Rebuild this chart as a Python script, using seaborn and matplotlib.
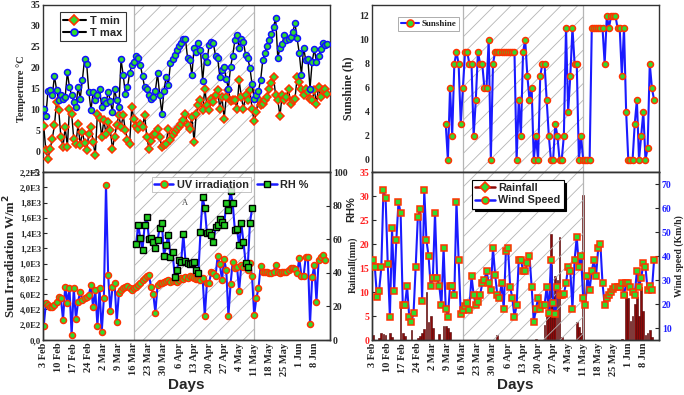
import matplotlib
matplotlib.use('Agg')
import numpy as np
import pandas as pd
import matplotlib.pyplot as plt
import matplotlib.dates as mdates
from matplotlib.lines import Line2D
from matplotlib.ticker import FuncFormatter, MultipleLocator
import seaborn as sns

# ---------------- data (daily, starting 3 Feb 2020) ----------------
t_min = [6, 0.2, -1.8, 0.6, 3.0, 6.2, 11.8, 9.8, 3.4, 1,
         5.8, 1, 10.2, 9, 2.8, 1.7, 6.5, 1.4, 4.6, 2.0,
         0.2, 4.2, 5.7, 2.2, -1, 9, 8, 3.4, 7.4, 4.2,
         7, 5, 0.6, 3.4, 6.2, 8.6, 5.7, 8.6, 5.0, 2.6,
         1.8, 10.6, 7.6, 6, 5.4, 6.6, 5.8, 8.6, 3.4, 0.6,
         2.5, 3.8, 4.2, 5.2, 3.4, 1, 1.5, 1.8, 5.4, 2.6,
         3.8, 4.6, 5.2, 5.8, 6.5, 7.4, 9,
         6.2, 5.4, 8.2, 2.2, 9, 11, 12.2, 9.8, 14.8, 11.0,
         9.8, 12.4, 11.8, 13.4, 14.6, 10.2, 13, 7.8, 13, 14.6,
         12.0, 12.2, 12.2, 10.2, 17, 13, 10.2, 13.4, 12.2, 14.6,
         10.2, 7.1, 9.4, 12.6, 11.0, 11.4, 12.2, 13, 15, 16.2,
         17.7, 13.4, 12.2, 8.4, 13.4, 12.2, 13, 14.8, 11.4, 12.2,
         12.6, 17.7, 16.6, 15, 13.4, 15, 14.2, 12.6, 12.2, 14.6,
         11.4, 15.4, 13, 14.6, 15, 13.8]

t_max = [10.2, 8.5, 14.5, 14.6, 13.4, 18.0, 14.6, 12.2, 13.4, 12.5,
         13.0, 18.9, 15.3, 13.4, 11.8, 10.6, 15.3, 12.6, 17.0, 22.0,
         20.9, 14.2, 9.8, 14.2, 12.2, 13.4, 15.0, 10.6, 12.2, 11.5,
         14.2, 12.1, 9.4, 14.8, 12.2, 10.5, 22.0, 18.2, 13.8, 15.3,
         18.6, 20.6, 21.4, 22.8, 22.2, 20.6, 18.0, 15.3, 14.8, 13.4,
         12.6, 13.0, 14.5, 18.6, 13.4, 9.0, 14.5, 17.8, 15.8, 21.0,
         22.0, 23.0, 24.2, 25.2, 26.0, 26.8, 26.8, 22.2, 21.8, 18.2,
         24.8, 23.8, 25.8, 24.2, 16.8, 22.8, 21.4, 25.4, 26.2, 25.8,
         22.8, 22.2, 17.8, 19.4, 20.2, 17.2, 15.0, 20.2, 22.8, 26.6,
         27.7, 24.6, 26.8, 26.2, 23.0, 22.2, 20.0, 16.0, 12.6, 13.4,
         14.5, 17.0, 21.8, 23.6, 25.2, 26.6, 28.0, 29.8, 31.8, 22.2,
         24.8, 25.6, 27.8, 26.6, 26.8, 27.3, 28.6, 30.6, 27.0, 23.4,
         18.2, 24.8, 21.8, 22.0, 15.0, 21.4, 24.4, 21.4, 22.8, 24.4,
         25.8, 25.4, 25.6]

# sunshine starts on day 34
sun_start = 34
sunshine = [3, 0, 6, 2, 8, 9, 8, 3, 6, 9, 9, 8, 8, 2, 5, 9, 8, 8, 6, 6,
            10, 0, 8, 9, 9, 9, 9, 9, 9, 9, 9, 9, 9, 0, 5, 2, 9, 10, 7, 5,
            6, 0, 2, 0, 7, 8, 8, 5, 2, 0, 0, 3, 2, 0, 0, 2, 11, 4, 7, 11,
            8, 8, 0, 2, 0, 0, 0, 0, 11, 11, 11, 11, 11, 11, 8, 12, 11, 12,
            12, 12, 11, 11, 7, 11, 4, 0, 0, 0, 3, 5, 0, 2, 4, 0, 1, 8, 6, 5]

uv = [183, 480, 459, 437, 428, 459, 502, 568, 546, 262,
      699, 489, 677, 65, 677, 271, 502, 633, 524, 546,
      568, 590, 720, 428, 655, 188, 677, 100, 546, 2030,
      852, 384, 690, 742, 240, 611, 655, 677, 690, 707,
      677, 655, 677, 699, 720, 742, 786, 810, 838, 852,
      690, 603, 358, 720, 742, 751, 764, 777, 786, 764,
      775, 786, 764, 786, 808, 795, 821, 808, 838, 821,
      808, 800, 795, 786, 808, 314, 751, 742, 895, 873,
      838, 1100, 996, 786, 1057, 917, 314, 734, 1026, 939,
      961, 646, 983, 952, 970, 917, 1004, 838, 327, 546,
      677, 970, 895, 890, 895, 873, 873, 895, 983, 895,
      873, 895, 895, 895, 917, 939, 939, 930, 873, 1070,
      838, 838, 1083, 1092, 210, 821, 983, 502, 1048, 1083,
      1114, 1048]

# relative humidity starts on day 43
rh_start = 43
rh = [57, 68.5, 60.5, 53.6, 68.5, 73.4, 60, 60.5, 58.5, 54.6,
      59.5, 66.5, 69.8, 50, 56.5, 62.5, 49.2, 52.6, 37.7, 41.7,
      47.6, 46.6, 63, 47.2, 45.6, 45.2, 45.6, 46.6, 41.7, 39.7,
      64.5, 85, 78.4, 63.5, 64.5, 62.5, 58.5, 67, 68.5, 71.8,
      70.4, 68.5, 81.3, 77.4, 88.9, 81.3, 65.5, 65.9, 56.5, 69.4,
      58.5, 46, 43.3, 69.4, 78.4]

wind = [38.3, 35.3, 22.8, 25.6, 35.3, 67.5, 64, 36.7, 14.7, 51.5,
        25.6, 46.7, 62.6, 57.8, 19.4, 19.4, 27.5, 14.7, 12.6, 16.1,
        35.3, 56.1, 59.4, 21.1, 67.5, 46.7, 40, 27.5, 30.7, 57.8,
        30.7, 27.5, 19.4, 43.3, 18, 14.7, 27.5, 27.5, 23.8, 62.6,
        38.3, 15.8, 17.5, 19.0, 20.6, 17.5, 31.7, 23.8, 19.4, 21.0,
        23.8, 28.6, 30.0, 33.9, 28.6, 25.8, 43.3, 32.2, 23.8, 22.4,
        28.6, 18, 41.9, 43.3,
        27.2, 22.4, 14.7, 19.4, 38.3, 38.3, 33.9, 33.9, 36.9, 40,
        27.2, 12.6, 18, 22.4, 18, 19.4, 19.4, 27.2, 16.1, 38.3,
        20.6, 15.8, 27.2, 23.8, 23.8, 24.2, 28.6, 35.6, 33.9, 18,
        38.3, 48, 35.3, 40, 22.4, 19.4, 31.7, 25.8, 33.9, 38.3,
        31.7, 43.3, 45.1, 28.6, 19.4, 22.4, 23.8, 25.2, 26.2, 27,
        27.2, 27.2, 28.6, 23.8, 28.6, 28.6, 27.2, 25.2, 23.8, 33.9,
        27.2, 30.7, 36.9, 35.3, 25.8, 27.5, 25.8, 38.3]

# rainy days (day number after 3 Feb) and amount
rain_day = [0, 3, 4, 5, 6, 8, 9, 13, 14, 15, 18, 21, 22, 23, 24, 25, 26, 27, 28,
            31, 33, 34, 35, 36, 58, 76, 80, 81, 82, 83, 84, 85, 86, 87, 88,
            95, 96, 97, 98, 116, 118, 119, 120, 121, 122, 123, 124, 125, 126,
            127, 128, 129, 130]
rain_mm = [1.0, 0.4, 1.4, 1.2, 1.0, 1.4, 0.6, 7.6, 1.5, 0.8, 2.0, 0.4, 0.8, 1.4, 2.3,
           10.0, 3.8, 5.0, 2.5, 1.2, 2.9, 2.9, 2.4, 1.7, 1.0, 0.3, 3.1, 4.9, 6.3,
           22.1, 9.0, 13.3, 12.5, 21.4, 0.6, 3.8, 2.8, 1.5, 30.2, 0.3, 10.1, 8.7,
           4.0, 4.9, 7.6, 9.0, 4.9, 11.0, 6.0, 1.0, 1.5, 2.0, 0.6]

start = pd.Timestamp('2020-02-03')
hatch_from = pd.Timestamp('2020-03-16')
hatch_to = pd.Timestamp('2020-05-11')


def dates(n, offset=0):
    return start + pd.to_timedelta(np.arange(n) + offset, unit='D')


# ---------------- style ----------------
sns.set_style('white')
plt.rcParams['font.family'] = ['Liberation Serif', 'DejaVu Sans']
plt.rcParams['font.weight'] = 'bold'
plt.rcParams['hatch.linewidth'] = 0.6
plt.rcParams['axes.edgecolor'] = '#333333'
plt.rcParams['axes.linewidth'] = 1.0

GREEN = '#2fdc2f'
RED = '#ff3300'
BLUE = '#1a1aff'
SANS = 'Liberation Sans'
MS = 4.3
MEW = 1.1

fig = plt.figure(figsize=(6.84, 3.95), dpi=100)
W, H = 684, 395


def add_ax(x0, y0, x1, y1):
    return fig.add_axes([x0 / W, 1 - y1 / H, (x1 - x0) / W, (y1 - y0) / H])


ax_tl = add_ax(43, 5, 330, 172)
ax_tr = add_ax(372, 5, 659, 172)
ax_bl = add_ax(43, 172, 330, 340)
ax_br = add_ax(372, 172, 659, 340)

xmin = start - pd.Timedelta(hours=8)
xmax = start + pd.Timedelta(days=133.3)
weekly = pd.date_range('2020-02-03', '2020-06-08', freq='7D')

for ax in (ax_tl, ax_tr, ax_bl, ax_br):
    ax.axvspan(hatch_from, hatch_to, facecolor='none', edgecolor='#b5b5b5',
               hatch='//', lw=0.9, zorder=1.5)
    ax.set_xlim(xmin, xmax)
    ax.set_xticks(weekly)
    ax.tick_params(direction='in', length=3, width=0.8, labelsize=7, pad=2)

for ax in (ax_tl, ax_tr):
    ax.tick_params(axis='x', labelbottom=False)

for ax in (ax_bl, ax_br):
    ax.xaxis.set_major_formatter(mdates.DateFormatter('%-d %b'))
    ax.tick_params(axis='x', labelrotation=90, labelsize=7.5)
    ax.set_xlabel('Days', fontsize=11, fontweight='bold', family=SANS, labelpad=1)

# ---------------- top left: temperature ----------------
sns.lineplot(x=dates(len(t_min)), y=t_min, ax=ax_tl, color='black', lw=1.0,
             marker='D', markersize=MS, markerfacecolor=GREEN,
             markeredgecolor=RED, markeredgewidth=MEW, zorder=3)
sns.lineplot(x=dates(len(t_max)), y=t_max, ax=ax_tl, color='black', lw=1.0,
             marker='o', markersize=MS, markerfacecolor=GREEN,
             markeredgecolor='#1010ff', markeredgewidth=MEW, zorder=3)
ax_tl.set_ylim(-5, 35)
ax_tl.yaxis.set_major_locator(MultipleLocator(5))
ax_tl.set_ylabel('Temperture °C', fontsize=7.5, fontweight='bold', labelpad=3)
h_tl = [Line2D([], [], color='black', lw=1.5, marker='D', ms=5, mfc=GREEN, mec=RED, mew=1.2),
        Line2D([], [], color='black', lw=1.5, marker='o', ms=5, mfc=GREEN, mec='#1010ff', mew=1.2)]
leg = ax_tl.legend(h_tl, ['T min', 'T max'], loc='upper left', bbox_to_anchor=(0.04, 0.99),
                   prop={'family': SANS, 'size': 8}, frameon=True, fancybox=False,
                   handlelength=2.0, borderpad=0.3, labelspacing=0.2, handletextpad=0.4)
leg.get_frame().set_edgecolor('black')
leg.get_frame().set_linewidth(0.8)

# ---------------- top right: sunshine ----------------
sns.lineplot(x=dates(len(sunshine), sun_start), y=sunshine, ax=ax_tr, color=BLUE, lw=1.5,
             marker='o', markersize=MS, markerfacecolor=GREEN,
             markeredgecolor=RED, markeredgewidth=MEW, zorder=3)
ax_tr.set_ylim(-1, 12.9)
ax_tr.yaxis.set_major_locator(MultipleLocator(2))
ax_tr.set_ylabel('Sunshine (h)', fontsize=8.5, fontweight='bold', labelpad=4)
h_tr = [Line2D([], [], color=BLUE, lw=1.5, marker='o', ms=5, mfc=GREEN, mec=RED, mew=1.2)]
leg = ax_tr.legend(h_tr, ['Sunshine'], loc='upper left', bbox_to_anchor=(0.075, 0.955),
                   prop={'size': 6.5, 'weight': 'bold'}, frameon=True, fancybox=False,
                   handlelength=2.0, borderpad=0.3, handletextpad=0.3)
leg.get_frame().set_edgecolor('#888888')
leg.get_frame().set_linewidth(0.6)

# ---------------- bottom left: UV + RH ----------------
sns.lineplot(x=dates(len(uv)), y=uv, ax=ax_bl, color=BLUE, lw=1.5,
             marker='o', markersize=MS, markerfacecolor=GREEN,
             markeredgecolor=RED, markeredgewidth=MEW, zorder=3)
ax_bl.set_ylim(0, 2200)
ax_bl.yaxis.set_major_locator(MultipleLocator(200))
ax_bl.tick_params(axis='y', labelsize=6.3, pad=1.5)


def sci_fmt(v, pos):
    if v <= 0:
        return '0,0'
    e = int(np.floor(np.log10(v)))
    return f"{v / 10 ** e:.1f}E{e}".replace('.', ',')


ax_bl.yaxis.set_major_formatter(FuncFormatter(sci_fmt))
ax_bl.set_ylabel('Sun Irradiation W/m$^\\mathbf{2}$', fontsize=9.3, fontweight='bold', labelpad=1)
ax_bl.text(0.495, 0.815, 'A', transform=ax_bl.transAxes, fontsize=6,
           color='#444444', fontweight='normal', ha='center', va='center')

ax_rh = ax_bl.twinx()
sns.lineplot(x=dates(len(rh), rh_start), y=rh, ax=ax_rh, color=BLUE, lw=1.5,
             marker='s', markersize=MS, markerfacecolor='#22cc22',
             markeredgecolor='black', markeredgewidth=1.0, zorder=3)
ax_rh.set_ylim(0, 100)
ax_rh.yaxis.set_major_locator(MultipleLocator(20))
ax_rh.tick_params(direction='in', length=3, width=0.8, labelsize=7, pad=2)
ax_rh.set_ylabel('RH%', fontsize=8, fontweight='bold', family=SANS, rotation=90)
ax_rh.yaxis.set_label_coords(1.058, 0.78)
ax_rh.set_xlim(xmin, xmax)

h_uv = [Line2D([], [], color=BLUE, lw=1.8, marker='o', ms=5, mfc=GREEN, mec=RED, mew=1.2)]
leg = ax_rh.legend(h_uv, ['UV irradiation'], loc='upper left', bbox_to_anchor=(0.36, 1.0),
                   prop={'family': SANS, 'size': 7.8}, frameon=True, fancybox=False,
                   handlelength=1.8, borderpad=0.2, handletextpad=0.3)
leg.get_frame().set_edgecolor('#aaaaaa')
leg.get_frame().set_linewidth(0.6)
ax_rh.add_artist(leg)
h_rh = [Line2D([], [], color=BLUE, lw=1.8, marker='s', ms=5, mfc='#22cc22', mec='black', mew=1.0)]
ax_rh.legend(h_rh, ['RH %'], loc='upper left', bbox_to_anchor=(0.72, 1.0),
             prop={'family': SANS, 'size': 7.8}, frameon=False,
             handlelength=1.8, borderpad=0.2, handletextpad=0.3)

# ---------------- bottom right: rainfall + wind ----------------
ax_br.bar(start + pd.to_timedelta(rain_day, unit='D'), rain_mm, width=0.8,
          color='#8b0a0a', edgecolor='#4d0000', linewidth=0.4, zorder=1)
ax_br.set_ylim(0, 35)
ax_br.yaxis.set_major_locator(MultipleLocator(5))
ax_br.tick_params(axis='y', labelcolor='#ff2020')
ax_br.set_ylabel('Rainfall(mm)', fontsize=7, fontweight='bold', labelpad=3)
ax_br.yaxis.set_label_coords(-0.05, 0.45)

ax_w = ax_br.twinx()
sns.lineplot(x=dates(len(wind)), y=wind, ax=ax_w, color=BLUE, lw=1.5,
             marker='s', markersize=MS, markerfacecolor=GREEN,
             markeredgecolor=RED, markeredgewidth=MEW, zorder=3)
ax_w.set_ylim(5, 75)
ax_w.yaxis.set_major_locator(MultipleLocator(10))
ax_w.tick_params(direction='in', length=3, width=0.8, labelsize=7, pad=2, labelcolor='#2020ff')
ax_w.set_ylabel('Wind speed (Km/h)', fontsize=7, fontweight='bold', labelpad=2)
ax_w.set_xlim(xmin, xmax)

h_br = [Line2D([], [], color='#8b0a0a', lw=1.8, marker='D', ms=5, mfc=GREEN, mec=RED, mew=1.2),
        Line2D([], [], color=BLUE, lw=1.8, marker='o', ms=5, mfc=GREEN, mec=RED, mew=1.2)]
leg = ax_w.legend(h_br, ['Rainfall', 'Wind Speed'], loc='upper left', bbox_to_anchor=(0.33, 0.985),
                  prop={'family': SANS, 'size': 7.8, 'weight': 'bold'}, frameon=True,
                  fancybox=False, shadow={'color': 'black', 'alpha': 1.0},
                  handlelength=1.8, borderpad=0.3, labelspacing=0.2, handletextpad=0.3)
leg.get_frame().set_edgecolor('black')
leg.get_frame().set_linewidth(0.8)
leg.get_frame().set_alpha(1.0)

fig.savefig('out.png', dpi=100)
plt.close(fig)
